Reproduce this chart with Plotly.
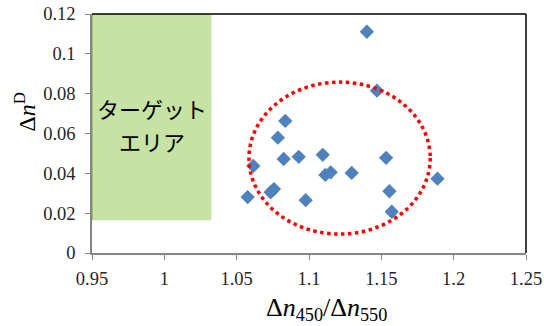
import plotly.graph_objects as go

# data
ratio_450_550 = [1.140, 1.147, 1.0836, 1.0785, 1.0615, 1.0825, 1.0929, 1.1095, 1.1113,
                 1.115, 1.1295, 1.1533, 1.1888, 1.1556, 1.1572, 1.0576, 1.0735, 1.0758, 1.0977]
delta_nD = [0.1111, 0.0815, 0.0663, 0.0579, 0.0437, 0.0472, 0.0483, 0.0493, 0.0392,
            0.0405, 0.0402, 0.0478, 0.0373, 0.0310, 0.0207, 0.0281, 0.0305, 0.0321, 0.0265]

x_ticks = [0.95, 1.0, 1.05, 1.1, 1.15, 1.2, 1.25]
x_tick_labels = ["0.95", "1", "1.05", "1.1", "1.15", "1.2", "1.25"]
y_ticks = [0, 0.02, 0.04, 0.06, 0.08, 0.1, 0.12]
y_tick_labels = ["0", "0.02", "0.04", "0.06", "0.08", "0.1", "0.12"]

target_label_lines = ["ターゲット", "エリア"]

# annotated regions (data coordinates)
target_x = [0.95, 1.0326]
target_y = [0.0165, 0.12]
target_label_y = [0.0728, 0.0562]
ellipse_x = [1.0585, 1.1838]
ellipse_y = [0.0095, 0.0858]

SERIF = "Liberation Serif, Times New Roman, serif"

fig = go.Figure()
fig.add_trace(go.Scatter(
    x=ratio_450_550, y=delta_nD, mode="markers",
    marker=dict(symbol="diamond", size=11, color="#4F81BD"),
    showlegend=False, cliponaxis=False,
))

fig.add_shape(type="rect", x0=target_x[0], x1=target_x[1], y0=target_y[0], y1=target_y[1],
              xref="x", yref="y", fillcolor="#C6E3A4", line=dict(width=0), layer="below")
fig.add_shape(type="line", x0=target_x[0], x1=target_x[0], y0=target_y[0], y1=target_y[1],
              xref="x", yref="y", line=dict(color="#9CC46E", width=2))
fig.add_shape(type="circle", x0=ellipse_x[0], x1=ellipse_x[1], y0=ellipse_y[0], y1=ellipse_y[1],
              xref="x", yref="y", line=dict(color="#FF0000", width=3.5, dash="dot"))
# top and right border
fig.add_shape(type="line", x0=0, x1=1, y0=1, y1=1, xref="paper", yref="paper",
              line=dict(color="#000000", width=1.5))
fig.add_shape(type="line", x0=1, x1=1, y0=0, y1=1, xref="paper", yref="paper",
              line=dict(color="#000000", width=1.5))

for line_text, ly in zip(target_label_lines, target_label_y):
    fig.add_annotation(x=(target_x[0] + target_x[1]) / 2, y=ly, xref="x", yref="y",
                       text=line_text, showarrow=False, xanchor="center", yanchor="middle",
                       font=dict(family="Noto Sans CJK JP", size=22, color="#000000"))

fig.add_annotation(x=-0.155, y=0.59, xref="paper", yref="paper", textangle=-90,
                   xanchor="center", yanchor="middle",
                   text="Δ<i>n</i><sup>D</sup>", showarrow=False,
                   font=dict(family=SERIF, size=24, color="#000000"))
fig.add_annotation(x=0.54, y=-0.235, xref="paper", yref="paper", xanchor="center", yanchor="middle",
                   text="Δ<i>n</i><sub>450</sub>/Δ<i>n</i><sub>550</sub>", showarrow=False,
                   font=dict(family=SERIF, size=26, color="#000000"))

fig.update_layout(
    width=551, height=326,
    margin=dict(l=92, r=25, t=14, b=73),
    paper_bgcolor="white", plot_bgcolor="white",
    xaxis=dict(range=[0.95, 1.25], tickvals=x_ticks, ticktext=x_tick_labels, automargin=False,
               showgrid=False, zeroline=False, showline=True, linecolor="#868686", linewidth=1.5,
               ticks="outside", ticklen=5, tickcolor="#868686", ticklabelstandoff=3,
               ticklabeloverflow="allow",
               tickfont=dict(family=SERIF, size=18.5, color="#262626")),
    yaxis=dict(range=[0, 0.12], tickvals=y_ticks, ticktext=y_tick_labels, automargin=False,
               showgrid=False, zeroline=False, showline=True, linecolor="#868686", linewidth=1.5,
               ticks="outside", ticklen=5, tickcolor="#868686", ticklabelstandoff=6,
               ticklabeloverflow="allow",
               tickfont=dict(family=SERIF, size=18.5, color="#262626")),
)

# remove the default page margin so the 551x326 figure fills the window exactly
fig.write_html("out.html", config={"displayModeBar": False},
               post_script="document.body.style.margin='0';document.body.style.overflow='hidden';")
